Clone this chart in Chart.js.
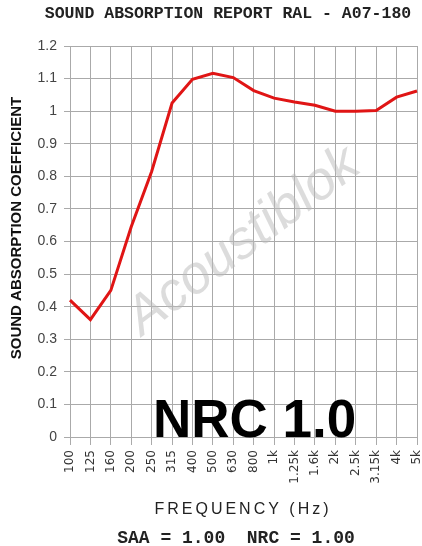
<!DOCTYPE html>
<html>
<head>
<meta charset="utf-8">
<script src="https://cdn.jsdelivr.net/npm/chart.js@4.4.1/dist/chart.umd.min.js"></script>
<style>
  html, body { margin: 0; padding: 0; background: #ffffff; }
  #wrap { position: relative; width: 422px; height: 546px; }
</style>
</head>
<body>
<div id="wrap"><canvas id="c" width="422" height="546"></canvas></div>
<script>
// ---- data ----
const categories = ['100','125','160','200','250','315','400','500','630','800','1k','1.25k','1.6k','2k','2.5k','3.15k','4k','5k'];
const absorption = [0.42, 0.36, 0.45, 0.645, 0.815, 1.025, 1.098, 1.116, 1.103, 1.063, 1.04, 1.028, 1.018, 1.0, 1.0, 1.002, 1.043, 1.062];
const yTicks = [0, 0.1, 0.2, 0.3, 0.4, 0.5, 0.6, 0.7, 0.8, 0.9, 1.0, 1.1, 1.2];
const yTickLabels = ['0','0.1','0.2','0.3','0.4','0.5','0.6','0.7','0.8','0.9','1','1.1','1.2'];
const titleText = 'SOUND ABSORPTION REPORT RAL - A07-180';
const yTitleText = 'SOUND ABSORPTION COEFFICIENT';
const xTitleText = 'FREQUENCY (Hz)';
const footerText = 'SAA = 1.00  NRC = 1.00';
const badgeText = 'NRC 1.0';
const watermarkText = 'Acoustiblok';

const gridColor = '#aaaaaa';

const textPlugin = {
  id: 'texts',
  beforeDatasetsDraw(chart) {
    const ctx = chart.ctx;
    const a = chart.chartArea;
    ctx.save();
    ctx.translate(a.left + (a.right - a.left) * 0.5, a.top + (a.bottom - a.top) * 0.5);
    ctx.rotate(-37 * Math.PI / 180);
    ctx.font = 'italic 54px "Liberation Sans"';
    ctx.fillStyle = 'rgba(185,185,185,0.5)';
    ctx.textAlign = 'center';
    ctx.textBaseline = 'middle';
    ctx.fillText(watermarkText, 0, 0);
    ctx.restore();
  },
  afterDatasetsDraw(chart) {
    const ctx = chart.ctx;
    const a = chart.chartArea;
    ctx.save();
    ctx.fillStyle = '#000000';
    ctx.font = 'bold 53px "Liberation Sans"';
    ctx.textAlign = 'left';
    ctx.textBaseline = 'alphabetic';
    ctx.fillText(badgeText, a.left + 83, a.bottom);
    ctx.restore();
  },
  afterDraw(chart) {
    const ctx = chart.ctx;
    const a = chart.chartArea;
    ctx.save();
    ctx.textBaseline = 'middle';
    ctx.textAlign = 'center';
    // top title
    ctx.fillStyle = '#222222';
    ctx.font = 'bold 16.5px "Liberation Mono"';
    ctx.fillText(titleText, 228, 14);
    // y title
    ctx.save();
    ctx.translate(17, 228);
    ctx.rotate(-Math.PI / 2);
    ctx.fillStyle = '#111111';
    ctx.font = 'bold 15px "Liberation Sans"';
    ctx.fillText(yTitleText, 0, 0);
    ctx.restore();
    // x title
    ctx.fillStyle = '#222222';
    ctx.font = '16px "Liberation Sans"';
    ctx.letterSpacing = '3px';
    ctx.fillText(xTitleText, 243, a.bottom + 73);
    ctx.letterSpacing = '0px';
    // footer
    ctx.font = 'bold 18px "Liberation Mono"';
    ctx.fillStyle = '#222222';
    ctx.fillText(footerText, 236, a.bottom + 101);
    ctx.restore();
  }
};

new Chart(document.getElementById('c'), {
  type: 'line',
  data: {
    labels: categories,
    datasets: [{
      data: absorption,
      borderColor: '#e01515',
      borderWidth: 3,
      pointRadius: 0,
      tension: 0,
      fill: false
    }]
  },
  options: {
    responsive: false,
    animation: false,
    layout: { padding: { top: 46, right: 5, bottom: 49, left: 0 } },
    plugins: { legend: { display: false }, tooltip: { enabled: false }, title: { display: false } },
    scales: {
      x: {
        type: 'category',
        offset: false,
        grid: { color: gridColor, lineWidth: 1, tickLength: 8 },
        border: { color: gridColor },
        ticks: {
          autoSkip: false, minRotation: 90, maxRotation: 90, padding: 5,
          color: '#333333', font: { family: 'DejaVu Sans', size: 12 }
        },
        afterFit(s) { s.height = 60; s.paddingLeft = 0; s.paddingRight = 0; }
      },
      y: {
        min: 0, max: 1.2,
        afterBuildTicks(s) { s.ticks = yTicks.map(v => ({ value: v })); },
        grid: { color: gridColor, lineWidth: 1, tickLength: 6 },
        border: { color: gridColor },
        ticks: {
          padding: 7, color: '#444444',
          font: { family: 'Liberation Sans', size: 14 },
          callback: (v, i) => yTickLabels[i]
        },
        afterFit(s) { s.width = 70; s.paddingTop = 0; s.paddingBottom = 0; }
      }
    }
  },
  plugins: [textPlugin]
});
</script>
</body>
</html>
